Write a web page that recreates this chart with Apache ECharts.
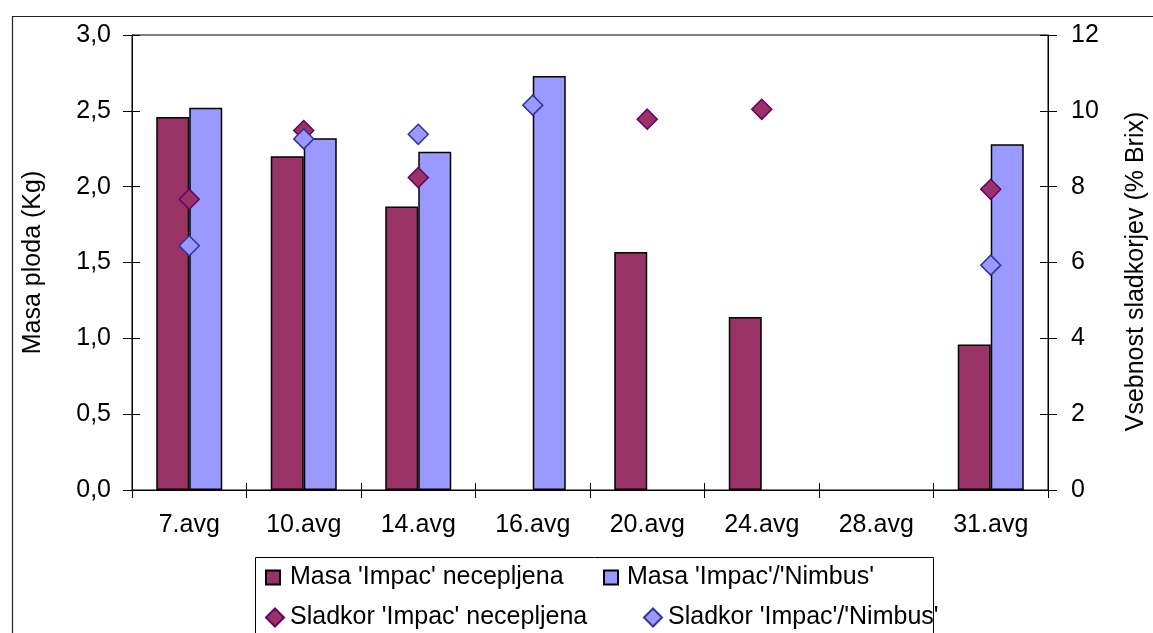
<!DOCTYPE html>
<html>
<head>
<meta charset="utf-8">
<script src="https://cdn.jsdelivr.net/npm/echarts@6/dist/echarts.min.js"></script>
<style>
  html, body { margin: 0; padding: 0; background: #fff; }
  #chart { width: 1153px; height: 633px; }
</style>
</head>
<body>
<div id="chart"></div>
<script>
var categories = ['7.avg', '10.avg', '14.avg', '16.avg', '20.avg', '24.avg', '28.avg', '31.avg'];
var masaNecepljena = [2.46, 2.20, 1.87, null, 1.57, 1.14, null, 0.96];
var masaNimbus = [2.52, 2.32, 2.23, 2.73, null, null, null, 2.28];
var sladkorNecepljena = [7.67, 9.48, 8.24, null, 9.78, 10.04, null, 7.93];
var sladkorNimbus = [6.44, 9.26, 9.38, 10.15, null, null, null, 5.93];
var seriesNames = ["Masa 'Impac' necepljena", "Masa 'Impac'/'Nimbus'", "Sladkor 'Impac' necepljena", "Sladkor 'Impac'/'Nimbus'"];

var font = 'Liberation Sans';
var fs = 25;
var chart = echarts.init(document.getElementById('chart'));

function dash(arr) {
	return arr.map(function (v) { return v == null ? '-' : v; });
}

// osnovne osi + podvojene osi samo za notranje kljukice
var axisLineBlack = { show: true, lineStyle: { color: '#000', width: 1 } };

var option = {
	animation: false,
	backgroundColor: '#fff',
	textStyle: { fontFamily: font, color: '#000' },
	grid: {
		left: 132, right: 105, top: 35, bottom: 143,
		outerBoundsMode: 'none', containLabel: false,
		show: true, borderColor: '#000', borderWidth: 1
	},
	graphic: [
		{ type: 'rect', left: 10, top: 14, shape: { width: 1400, height: 900 }, style: { fill: null, stroke: '#222', lineWidth: 1.2 }, silent: true },
		{ type: 'rect', left: 255, top: 557, shape: { width: 678, height: 200 }, style: { fill: '#fff', stroke: '#000', lineWidth: 1 }, silent: true, z: -1 }
	],
	legend: [
		{ data: [{ name: seriesNames[0], icon: 'rect' }], left: 265, top: 565, padding: 0, itemWidth: 14, itemHeight: 14, selectedMode: false,
		  textStyle: { fontFamily: font, fontSize: fs, color: '#000', padding: [0, 0, 0, 5] } },
		{ data: [{ name: seriesNames[1], icon: 'rect' }], left: 603, top: 565, padding: 0, itemWidth: 14, itemHeight: 14, selectedMode: false,
		  textStyle: { fontFamily: font, fontSize: fs, color: '#000', padding: [0, 0, 0, 4] } },
		{ data: [seriesNames[2]], left: 265, top: 605, padding: 0, itemWidth: 18, itemHeight: 18, selectedMode: false,
		  textStyle: { fontFamily: font, fontSize: fs, color: '#000', padding: [0, 0, 0, 1] } },
		{ data: [seriesNames[3]], left: 643, top: 605, padding: 0, itemWidth: 18, itemHeight: 18, selectedMode: false,
		  textStyle: { fontFamily: font, fontSize: fs, color: '#000', padding: [0, 0, 0, 1] } }
	],
	xAxis: [{
		type: 'category',
		data: categories,
		axisLine: axisLineBlack,
		axisTick: { show: true, length: 8, lineStyle: { color: '#000' } },
		axisLabel: { fontFamily: font, fontSize: fs, color: '#000', margin: 23 }
	}, {
		type: 'category',
		data: categories,
		position: 'bottom',
		axisLine: { show: false },
		axisTick: { show: true, inside: true, length: 7, lineStyle: { color: '#000' } },
		axisLabel: { show: false }
	}],
	yAxis: [{
		type: 'value', min: 0, max: 3, interval: 0.5, position: 'left',
		name: 'Masa ploda (Kg)', nameLocation: 'middle', nameRotate: 90, nameGap: 86,
		nameTextStyle: { fontFamily: font, fontSize: fs, color: '#000' },
		axisLine: axisLineBlack,
		axisTick: { show: true, length: 9, lineStyle: { color: '#000' } },
		splitLine: { show: false },
		axisLabel: {
			fontFamily: font, fontSize: fs, color: '#000', margin: 21,
			formatter: function (v) { return v.toFixed(1).replace('.', ','); }
		}
	}, {
		type: 'value', min: 0, max: 12, interval: 2, position: 'right',
		name: 'Vsebnost sladkorjev (% Brix)', nameLocation: 'middle', nameRotate: 90, nameGap: 76,
		nameTextStyle: { fontFamily: font, fontSize: fs, color: '#000', padding: [0, 18, 0, 0] },
		axisLine: axisLineBlack,
		axisTick: { show: true, length: 9, lineStyle: { color: '#000' } },
		splitLine: { show: false },
		axisLabel: { fontFamily: font, fontSize: fs, color: '#000', margin: 23 }
	}, {
		type: 'value', min: 0, max: 3, interval: 0.5, position: 'left',
		axisLine: { show: false }, splitLine: { show: false }, axisLabel: { show: false },
		axisTick: { show: true, inside: true, length: 8, lineStyle: { color: '#000' } }
	}, {
		type: 'value', min: 0, max: 12, interval: 2, position: 'right',
		axisLine: { show: false }, splitLine: { show: false }, axisLabel: { show: false },
		axisTick: { show: true, inside: true, length: 8, lineStyle: { color: '#000' } }
	}],
	series: [{
		name: seriesNames[0],
		type: 'bar',
		yAxisIndex: 0,
		barWidth: 33,
		barGap: '0%',
		data: dash(masaNecepljena),
		itemStyle: { color: '#993366', borderColor: '#000', borderWidth: 1.5 }
	}, {
		name: seriesNames[1],
		type: 'bar',
		yAxisIndex: 0,
		barWidth: 33,
		barGap: '0%',
		data: dash(masaNimbus),
		itemStyle: { color: '#9999FF', borderColor: '#000', borderWidth: 1.5 }
	}, {
		name: seriesNames[2],
		type: 'scatter',
		yAxisIndex: 1,
		symbol: 'diamond',
		symbolSize: 20,
		z: 5,
		data: dash(sladkorNecepljena),
		itemStyle: { color: '#993366', borderColor: '#660066', borderWidth: 1.5, opacity: 1 }
	}, {
		name: seriesNames[3],
		type: 'scatter',
		yAxisIndex: 1,
		symbol: 'diamond',
		symbolSize: 20,
		z: 5,
		data: dash(sladkorNimbus),
		itemStyle: { color: '#9999FF', borderColor: '#333399', borderWidth: 1.5, opacity: 1 }
	}]
};

chart.setOption(option);
</script>
</body>
</html>
